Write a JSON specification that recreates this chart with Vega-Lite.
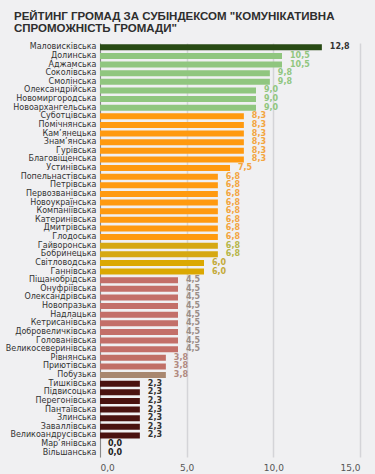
{
  "$schema": "https://vega.github.io/schema/vega-lite/v6.json",
  "width": 260,
  "height": 414,
  "autosize": {"type": "none"},
  "padding": {"left": 100, "top": 43, "right": 15, "bottom": 17},
  "background": "#f0f0f2",
  "title": {
    "text": ["РЕЙТИНГ ГРОМАД ЗА СУБІНДЕКСОМ \"КОМУНІКАТИВНА", "СПРОМОЖНІСТЬ ГРОМАДИ\""],
    "anchor": "start",
    "frame": "group",
    "dx": -86,
    "offset": 8,
    "font": "Liberation Sans",
    "fontSize": 11.5,
    "fontWeight": 900,
    "color": "#2e2e2e",
    "lineHeight": 12.5
  },
  "config": {
    "locale": {"number": {"decimal": ",", "thousands": " ", "grouping": [3], "currency": ["", ""]}},
    "view": {"stroke": null},
    "font": "DejaVu Sans"
  },
  "data": {
    "values": [
      {"name": "Маловисківська", "value": 12.8, "grp": "g1"},
      {"name": "Долинська", "value": 10.5, "grp": "g2"},
      {"name": "Аджамська", "value": 10.5, "grp": "g2"},
      {"name": "Соколівська", "value": 9.8, "grp": "g2"},
      {"name": "Смолінська", "value": 9.8, "grp": "g2"},
      {"name": "Олександрійська", "value": 9.0, "grp": "g2"},
      {"name": "Новомиргородська", "value": 9.0, "grp": "g2"},
      {"name": "Новоархангельська", "value": 9.0, "grp": "g2"},
      {"name": "Суботцівська", "value": 8.3, "grp": "g3"},
      {"name": "Помічнянська", "value": 8.3, "grp": "g3"},
      {"name": "Кам’янецька", "value": 8.3, "grp": "g3"},
      {"name": "Знам’янська", "value": 8.3, "grp": "g3"},
      {"name": "Гурівська", "value": 8.3, "grp": "g3"},
      {"name": "Благовіщенська", "value": 8.3, "grp": "g3"},
      {"name": "Устинівська", "value": 7.5, "grp": "g3"},
      {"name": "Попельнастівська", "value": 6.8, "grp": "g3"},
      {"name": "Петрівська", "value": 6.8, "grp": "g3"},
      {"name": "Первозванівська", "value": 6.8, "grp": "g3"},
      {"name": "Новоукраїнська", "value": 6.8, "grp": "g3"},
      {"name": "Компаніївська", "value": 6.8, "grp": "g3"},
      {"name": "Катеринівська", "value": 6.8, "grp": "g3"},
      {"name": "Дмитрівська", "value": 6.8, "grp": "g3"},
      {"name": "Глодоська", "value": 6.8, "grp": "g3"},
      {"name": "Гайворонська", "value": 6.8, "grp": "g4"},
      {"name": "Бобринецька", "value": 6.8, "grp": "g4"},
      {"name": "Світловодська", "value": 6.0, "grp": "g5"},
      {"name": "Ганнівська", "value": 6.0, "grp": "g5"},
      {"name": "Піщанобрідська", "value": 4.5, "grp": "g6"},
      {"name": "Онуфріївська", "value": 4.5, "grp": "g6"},
      {"name": "Олександрівська", "value": 4.5, "grp": "g6"},
      {"name": "Новопразька", "value": 4.5, "grp": "g6"},
      {"name": "Надлацька", "value": 4.5, "grp": "g6"},
      {"name": "Кетрисанівська", "value": 4.5, "grp": "g6"},
      {"name": "Добровеличківська", "value": 4.5, "grp": "g6"},
      {"name": "Голованівська", "value": 4.5, "grp": "g6"},
      {"name": "Великосеверинівська", "value": 4.5, "grp": "g6"},
      {"name": "Рівнянська", "value": 3.8, "grp": "g7"},
      {"name": "Приютівська", "value": 3.8, "grp": "g7"},
      {"name": "Побузька", "value": 3.8, "grp": "g7b"},
      {"name": "Тишківська", "value": 2.3, "grp": "g8"},
      {"name": "Підвисоцька", "value": 2.3, "grp": "g8"},
      {"name": "Перегонівська", "value": 2.3, "grp": "g8"},
      {"name": "Пантаївська", "value": 2.3, "grp": "g8"},
      {"name": "Злинська", "value": 2.3, "grp": "g8"},
      {"name": "Заваллівська", "value": 2.3, "grp": "g8"},
      {"name": "Великоандрусівська", "value": 2.3, "grp": "g8"},
      {"name": "Мар’янівська", "value": 0.0, "grp": "g9"},
      {"name": "Вільшанська", "value": 0.0, "grp": "g9"}
    ]
  },
  "encoding": {
    "y": {
      "field": "name",
      "type": "nominal",
      "sort": null,
      "scale": {"paddingInner": 0.3, "paddingOuter": 0.15},
      "axis": {
        "title": null,
        "ticks": false,
        "labelPadding": 4,
        "labelFontSize": 8,
        "labelColor": "#333333",
        "labelLimit": 100,
        "domain": true,
        "domainColor": "#888888",
        "grid": false
      }
    }
  },
  "layer": [
    {
      "mark": {"type": "bar"},
      "encoding": {
        "x": {
          "field": "value",
          "type": "quantitative",
          "scale": {"domain": [0, 15], "nice": false},
          "axis": {
            "title": null,
            "values": [0, 5, 10, 15],
            "format": ".1f",
            "domain": false,
            "ticks": false,
            "labelFontSize": 9,
            "labelColor": "#555555",
            "labelPadding": 6,
            "gridColor": "#d4d4d8",
            "gridWidth": 1.5
          }
        },
        "color": {
          "field": "grp",
          "type": "nominal",
          "legend": null,
          "scale": {
            "domain": ["g1", "g2", "g3", "g4", "g5", "g6", "g7", "g7b", "g8", "g9"],
            "range": ["#284a14", "#90c67f", "#ff9a10", "#d6a812", "#dba802", "#c36f69", "#c16f66", "#a8876f", "#4a1210", "#333333"]
          }
        }
      }
    },
    {
      "mark": {"type": "text", "align": "left", "dx": 8, "fontSize": 8, "fontWeight": "bold"},
      "encoding": {
        "x": {"field": "value", "type": "quantitative"},
        "text": {"field": "value", "type": "quantitative", "format": ".1f"},
        "color": {
          "field": "grp",
          "type": "nominal",
          "legend": null,
          "scale": {
            "domain": ["g1", "g2", "g3", "g4", "g5", "g6", "g7", "g7b", "g8", "g9"],
            "range": ["#333333", "#90c67f", "#f3a540", "#b6b648", "#c4aa3a", "#9a8e88", "#b08a80", "#b08a80", "#333333", "#222222"]
          }
        }
      }
    }
  ],
  "resolve": {"scale": {"color": "independent"}}
}
